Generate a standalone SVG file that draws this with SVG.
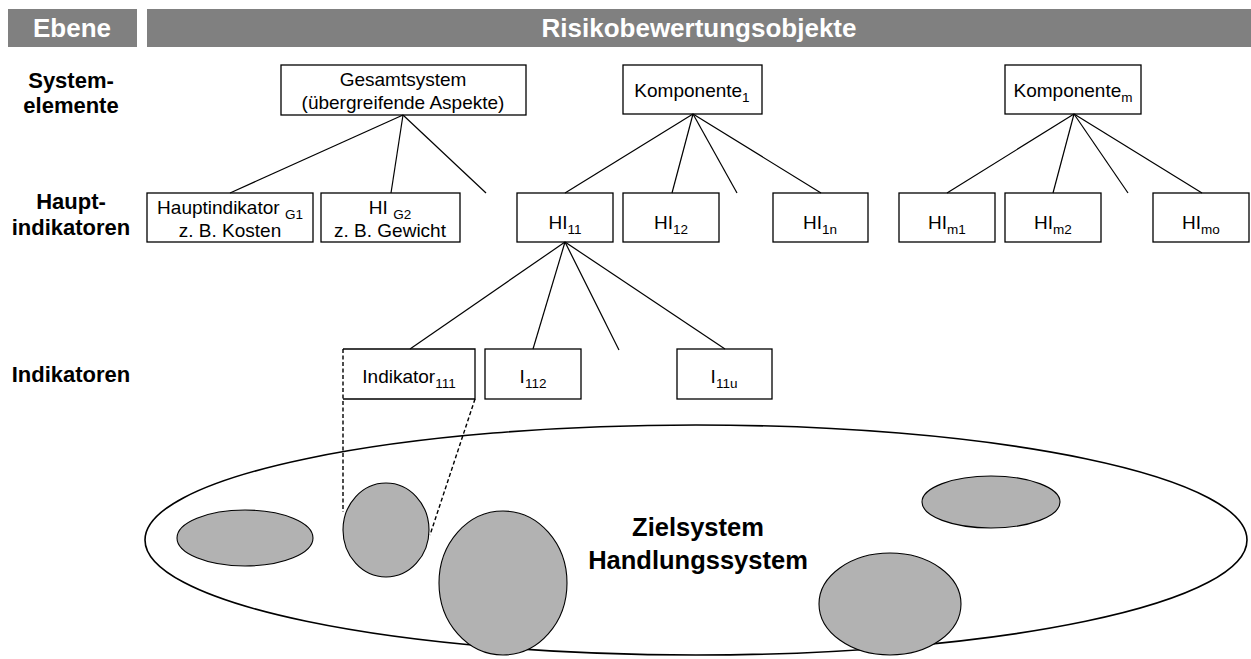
<svg xmlns="http://www.w3.org/2000/svg" width="1251" height="659" viewBox="0 0 1251 659">
  <style>
    .bar { fill: #808080; }
    .head { font-family: "Liberation Sans", Arial, sans-serif; font-weight: bold; font-size: 26px; fill: #ffffff; text-anchor: middle; }
    .lvl { font-family: "Liberation Sans", Arial, sans-serif; font-weight: bold; font-size: 22px; fill: #000000; text-anchor: middle; }
    .box { fill: #ffffff; stroke: #000000; stroke-width: 1.3; }
    .fill { fill: #ffffff; stroke: none; }
    .rim { fill: none; stroke: #000000; stroke-width: 1.3; }
    .lbl { font-family: "Liberation Sans", Arial, sans-serif; font-size: 19px; fill: #000000; text-anchor: middle; }
    .sub { font-size: 13.5px; fill: #000000; }
    .edge { stroke: #000000; stroke-width: 1.2; fill: none; }
    .dash { stroke: #000000; stroke-width: 1.4; fill: none; stroke-dasharray: 4 2.5; }
    .blob { fill: #b2b2b2; stroke: #000000; stroke-width: 1.1; }
    .outer { fill: #ffffff; stroke: #000000; stroke-width: 1.6; }
    .big { font-family: "Liberation Sans", Arial, sans-serif; font-weight: bold; font-size: 25.5px; fill: #000000; text-anchor: middle; }
  </style>

  <!-- header bars -->
  <g id="header">
    <rect class="bar" x="8" y="9" width="129" height="38"/>
    <text class="head" x="72" y="37">Ebene</text>
    <rect class="bar" x="147" y="9" width="1104" height="38"/>
    <text class="head" x="699" y="37">Risikobewertungsobjekte</text>
  </g>

  <!-- level labels -->
  <g id="levels">
    <text class="lvl" x="71" y="88">System-</text>
    <text class="lvl" x="71" y="113">elemente</text>
    <text class="lvl" x="71" y="209">Haupt-</text>
    <text class="lvl" x="71" y="235">indikatoren</text>
    <text class="lvl" x="71" y="382">Indikatoren</text>
  </g>

  <!-- target / action system -->
  <g id="zielsystem">
    <ellipse class="outer" cx="696" cy="540" rx="551" ry="115"/>
    <ellipse class="blob" cx="245" cy="538" rx="68" ry="28"/>
    <ellipse class="blob" cx="386" cy="530" rx="43" ry="47"/>
    <ellipse class="blob" cx="503" cy="583" rx="64" ry="72"/>
    <ellipse class="blob" cx="991" cy="502" rx="69" ry="26"/>
    <ellipse class="blob" cx="890" cy="604" rx="71" ry="51"/>
    <text class="big" x="698" y="536">Zielsystem</text>
    <text class="big" x="698" y="569">Handlungssystem</text>
  </g>

  <!-- system elements -->
  <g id="gesamtsystem">
    <rect class="box" x="281" y="65" width="245" height="50"/>
    <text class="lbl" x="403" y="86">Gesamtsystem</text>
    <text class="lbl" x="403" y="109">(übergreifende Aspekte)</text>
  </g>
  <g id="komponente1">
    <rect class="box" x="623" y="65" width="139" height="49"/>
    <text class="lbl" x="692" y="97">Komponente<tspan class="sub" dy="5">1</tspan></text>
  </g>
  <g id="komponentem">
    <rect class="box" x="1005" y="65" width="136" height="49"/>
    <text class="lbl" x="1073" y="97">Komponente<tspan class="sub" dy="5">m</tspan></text>
  </g>

  <!-- main indicators -->
  <g id="hi-g1">
    <rect class="box" x="147" y="193" width="166" height="49"/>
    <text class="lbl" x="230" y="214">Hauptindikator <tspan class="sub" dy="5">G1</tspan></text>
    <text class="lbl" x="230" y="237">z. B. Kosten</text>
  </g>
  <g id="hi-g2">
    <rect class="box" x="321" y="193" width="139" height="49"/>
    <text class="lbl" x="390" y="214">HI <tspan class="sub" dy="5">G2</tspan></text>
    <text class="lbl" x="390" y="237">z. B. Gewicht</text>
  </g>
  <g id="hi-11">
    <rect class="box" x="517" y="193" width="96" height="49"/>
    <text class="lbl" x="565" y="229">HI<tspan class="sub" dy="5">11</tspan></text>
  </g>
  <g id="hi-12">
    <rect class="box" x="623" y="193" width="96" height="49"/>
    <text class="lbl" x="671" y="229">HI<tspan class="sub" dy="5">12</tspan></text>
  </g>
  <g id="hi-1n">
    <rect class="box" x="773" y="193" width="95" height="49"/>
    <text class="lbl" x="820" y="229">HI<tspan class="sub" dy="5">1n</tspan></text>
  </g>
  <g id="hi-m1">
    <rect class="box" x="899" y="193" width="96" height="49"/>
    <text class="lbl" x="947" y="229">HI<tspan class="sub" dy="5">m1</tspan></text>
  </g>
  <g id="hi-m2">
    <rect class="box" x="1005" y="193" width="96" height="49"/>
    <text class="lbl" x="1053" y="229">HI<tspan class="sub" dy="5">m2</tspan></text>
  </g>
  <g id="hi-mo">
    <rect class="box" x="1153" y="193" width="96" height="49"/>
    <text class="lbl" x="1201" y="229">HI<tspan class="sub" dy="5">mo</tspan></text>
  </g>

  <!-- indicators; the left side of Indikator111 is drawn by the dashed zoom line -->
  <g id="i-111">
    <rect class="fill" x="343" y="349" width="132" height="50"/>
    <path class="rim" d="M343,349 H475 V399 H343"/>
    <text class="lbl" x="409" y="383">Indikator<tspan class="sub" dy="5">111</tspan></text>
  </g>
  <g id="i-112">
    <rect class="box" x="485" y="349" width="96" height="50"/>
    <text class="lbl" x="533" y="383">I<tspan class="sub" dy="5">112</tspan></text>
  </g>
  <g id="i-11u">
    <rect class="box" x="677" y="349" width="95" height="50"/>
    <text class="lbl" x="724" y="383">I<tspan class="sub" dy="5">11u</tspan></text>
  </g>

  <!-- connectors -->
  <g id="connectors">
    <line class="edge" x1="403" y1="115" x2="230" y2="193"/>
    <line class="edge" x1="403" y1="115" x2="391" y2="193"/>
    <line class="edge" x1="403" y1="115" x2="486" y2="193"/>

    <line class="edge" x1="693" y1="114" x2="565" y2="193"/>
    <line class="edge" x1="693" y1="114" x2="672" y2="193"/>
    <line class="edge" x1="693" y1="114" x2="737" y2="193"/>
    <line class="edge" x1="693" y1="114" x2="821" y2="193"/>

    <line class="edge" x1="1074" y1="114" x2="947" y2="193"/>
    <line class="edge" x1="1074" y1="114" x2="1053" y2="193"/>
    <line class="edge" x1="1074" y1="114" x2="1128" y2="193"/>
    <line class="edge" x1="1074" y1="114" x2="1202" y2="193"/>

    <line class="edge" x1="565" y1="242" x2="410" y2="349"/>
    <line class="edge" x1="565" y1="242" x2="533" y2="349"/>
    <line class="edge" x1="565" y1="242" x2="619" y2="350"/>
    <line class="edge" x1="565" y1="242" x2="725" y2="349"/>

    <line class="dash" x1="343" y1="349" x2="343" y2="512"/>
    <line class="dash" x1="475" y1="399" x2="430" y2="535"/>
  </g>
</svg>
